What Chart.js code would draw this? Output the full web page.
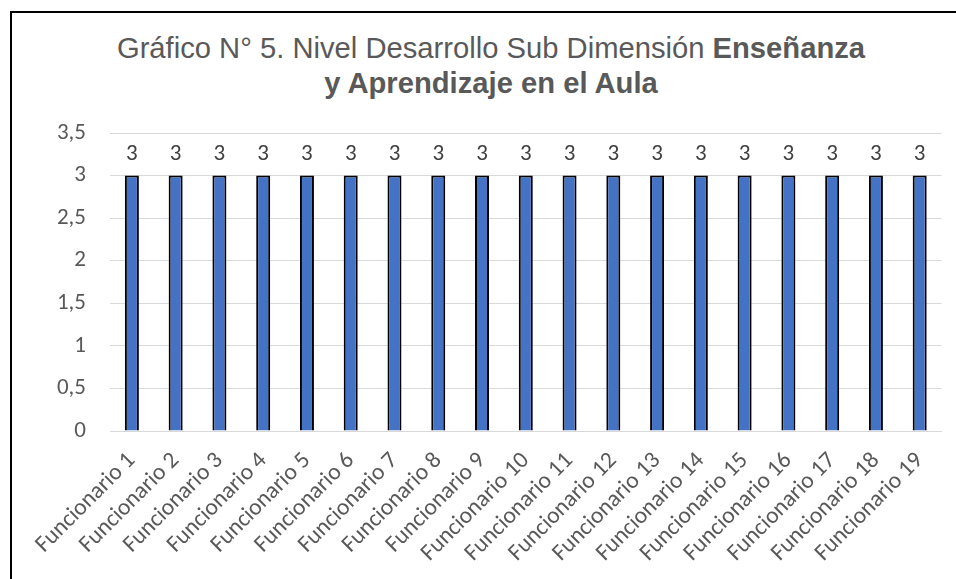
<!DOCTYPE html>
<html>
<head>
<meta charset="utf-8">
<script src="https://cdn.jsdelivr.net/npm/chart.js@4"></script>
<style>
  body { margin: 0; background: #fff; }
  #wrap { position: relative; width: 956px; height: 579px; overflow: hidden; }
  #frame { position: absolute; left: 10px; top: 11px; width: 1000px; height: 700px; border: 2px solid #000; box-sizing: border-box; }
  #title {
    position: absolute; left: 91px; width: 800px; top: 31px;
    text-align: center; font-family: "Liberation Sans", Arial, sans-serif;
    font-size: 29.2px; line-height: 35px; color: #595959;
  }
  #title b { font-weight: bold; }
  canvas { position: absolute; left: 0; top: 0; }
</style>
</head>
<body>
<div id="wrap">
  <div id="frame"></div>
  <div id="title">Gráfico N° 5. Nivel Desarrollo Sub Dimensión <b>Enseñanza</b><br><b>y Aprendizaje en el Aula</b></div>
  <canvas id="nivelChart" width="956" height="579"></canvas>
</div>
<script>
// datos
const funcionarios = [
  "Funcionario 1", "Funcionario 2", "Funcionario 3", "Funcionario 4", "Funcionario 5",
  "Funcionario 6", "Funcionario 7", "Funcionario 8", "Funcionario 9", "Funcionario 10",
  "Funcionario 11", "Funcionario 12", "Funcionario 13", "Funcionario 14", "Funcionario 15",
  "Funcionario 16", "Funcionario 17", "Funcionario 18", "Funcionario 19"
];
const nivel = [3, 3, 3, 3, 3, 3, 3, 3, 3, 3, 3, 3, 3, 3, 3, 3, 3, 3, 3];
const yTicks = [0, 0.5, 1, 1.5, 2, 2.5, 3, 3.5];

const labelFont = "Carlito, Calibri, Lato, sans-serif";

// etiquetas de valor encima de cada barra
const valueLabels = {
  id: "valueLabels",
  afterDatasetsDraw(chart) {
    const ctx = chart.ctx;
    const meta = chart.getDatasetMeta(0);
    ctx.save();
    ctx.font = "23px " + labelFont;
    ctx.fillStyle = "#404040";
    ctx.textAlign = "center";
    ctx.textBaseline = "alphabetic";
    meta.data.forEach(function (bar, i) {
      ctx.fillText(String(nivel[i]).replace(".", ","), bar.x, bar.y - 16);
    });
    ctx.restore();
  }
};

const ctx = document.getElementById("nivelChart").getContext("2d");
new Chart(ctx, {
  type: "bar",
  data: {
    labels: funcionarios,
    datasets: [{
      data: nivel,
      backgroundColor: "#4472C4",
      borderColor: "#000000",
      borderWidth: 2,
      categoryPercentage: 1,
      barPercentage: 0.32
    }]
  },
  options: {
    responsive: false,
    animation: false,
    devicePixelRatio: 1,
    layout: { padding: { top: 133, right: 14, left: 0, bottom: 0 } },
    plugins: {
      legend: { display: false },
      tooltip: { enabled: false }
    },
    scales: {
      x: {
        grid: { display: false, drawTicks: false },
        border: { display: true, color: "#D9D9D9", width: 1 },
        ticks: {
          autoSkip: false,
          minRotation: 45,
          maxRotation: 45,
          padding: 16,
          color: "#595959",
          font: { family: labelFont, size: 23.5 }
        },
        afterFit(scale) { scale.height = 148; }
      },
      y: {
        min: 0,
        max: 3.5,
        afterBuildTicks(scale) { scale.ticks = yTicks.map((v) => ({ value: v })); },
        grid: { color: "#D9D9D9", lineWidth: 1, drawTicks: false },
        border: { display: false },
        ticks: {
          padding: 24,
          color: "#595959",
          font: { family: labelFont, size: 23 },
          callback: (v) => String(v).replace(".", ",")
        },
        afterFit(scale) { scale.width = 110; }
      }
    }
  },
  plugins: [valueLabels]
});
</script>
</body>
</html>
